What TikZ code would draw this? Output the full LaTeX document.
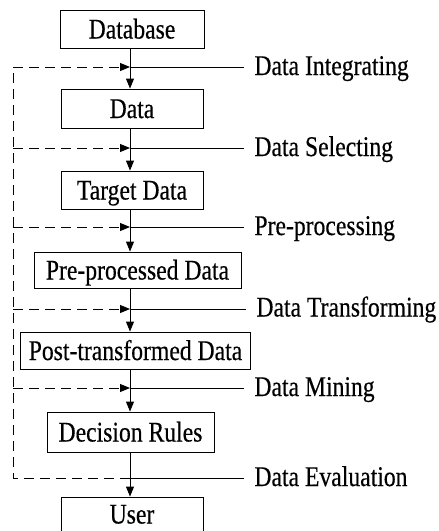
\documentclass[tikz,border=0pt]{standalone}
\usepackage{fontspec}
\setmainfont[FakeStretch=0.83,FakeBold=0.4]{Liberation Serif}
\usetikzlibrary{arrows.meta}
\begin{document}
\begin{tikzpicture}[x=1pt,y=-1pt,
  every path/.style={line width=0.9pt},
  stage/.style={draw, inner sep=0pt, text height=19pt, text depth=0pt,
    font=\fontsize{28.5}{28.5}\selectfont},
  lab/.style={inner xsep=10pt, inner ysep=0pt, anchor=base west,
    font=\fontsize{28.5}{28.5}\selectfont},
  flow/.style={-{Triangle[length=10pt,width=8pt]}},
  feedback/.style={dash pattern=on 10pt off 6pt},
  feedarrow/.style={feedback, -{Triangle[length=10pt,width=8pt]}}]
\useasboundingbox (0,0) rectangle (439,531);

% process stages
\node[stage, minimum width=144pt, minimum height=38pt] (db)   at (132,29)    {Database};
\node[stage, minimum width=142pt, minimum height=39pt] (data) at (132,108.5) {Data};
\node[stage, minimum width=142pt, minimum height=38pt] (tgt)  at (132,190)   {Target Data};
\node[stage, minimum width=207pt, minimum height=36pt] (pre)  at (137.5,270) {Pre-processed Data};
\node[stage, minimum width=230pt, minimum height=37pt] (post) at (135.5,350.5) {Post-transformed Data};
\node[stage, minimum width=167pt, minimum height=40pt] (rule) at (130.5,432) {Decision Rules};
\node[stage, minimum width=142pt, minimum height=34pt] (user) at (132,514)   {User};

% main axis and junctions on it
\coordinate (axis) at (130,0);
\coordinate (j1) at (130,67);
\coordinate (j2) at (130,148);
\coordinate (j3) at (130,227);
\coordinate (j4) at (130,309);
\coordinate (j5) at (130,388);
\coordinate (j6) at (130,478);

% feedback rail on the left
\coordinate (f1) at (13,67);
\coordinate (f2) at (13,148);
\coordinate (f3) at (13,227);
\coordinate (f4) at (13,309);
\coordinate (f5) at (13,388);
\coordinate (f6) at (13,478);

% step labels
\node[lab] (l1) at (244,75)    {Data Integrating};
\node[lab] (l2) at (244,156)   {Data Selecting};
\node[lab] (l3) at (244,235)   {Pre-processing};
\node[lab] (l4) at (246,316.5) {Data Transforming};
\node[lab] (l5) at (244,396)   {Data Mining};
\node[lab] (l6) at (244,486)   {Data Evaluation};

% downward flow
\draw[flow] (db.south -| axis)   -- (data.north -| axis);
\draw[flow] (data.south -| axis) -- (tgt.north -| axis);
\draw[flow] (tgt.south -| axis)  -- (pre.north -| axis);
\draw[flow] (pre.south -| axis)  -- (post.north -| axis);
\draw[flow] (post.south -| axis) -- (rule.north -| axis);
\draw[flow] (rule.south -| axis) -- (user.north -| axis);

% label leaders
\draw (j1) -- (l1.west |- j1);
\draw (j2) -- (l2.west |- j2);
\draw (j3) -- (l3.west |- j3);
\draw (j4) -- (l4.west |- j4);
\draw (j5) -- (l5.west |- j5);
\draw (j6) -- (l6.west |- j6);

% feedback loop
\draw[feedback] (j6) -- (f6) -- (f1);
\draw[feedarrow] (f1) -- (j1);
\draw[feedarrow] (f2) -- (j2);
\draw[feedarrow] (f3) -- (j3);
\draw[feedarrow] (f4) -- (j4);
\draw[feedarrow] (f5) -- (j5);
\end{tikzpicture}
\end{document}
